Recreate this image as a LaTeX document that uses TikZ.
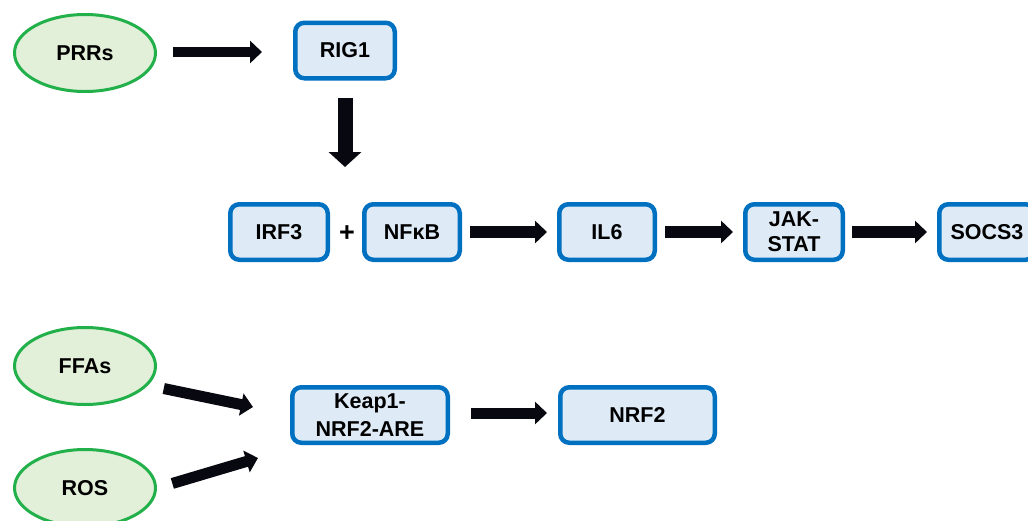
\documentclass[tikz,border=0pt]{standalone}
\usepackage{fontspec}
\setmainfont{Liberation Sans}
\usetikzlibrary{arrows.meta,shapes.geometric}
\definecolor{gborder}{HTML}{22B04A}
\definecolor{gfill}{HTML}{E2F0D9}
\definecolor{bborder}{HTML}{0070C0}
\definecolor{bfill}{HTML}{DEEBF7}
\definecolor{arrowcol}{HTML}{080810}
\tikzset{
  txt/.style={font=\fontsize{21.5}{25}\selectfont\bfseries, align=center},
  oval/.style={txt, ellipse, draw=gborder, fill=gfill, line width=3pt, minimum width=141pt, minimum height=77pt, inner sep=0pt},
  pbox/.style={txt, rectangle, rounded corners=9pt, draw=bborder, fill=bfill, line width=4.5pt, minimum height=55.5pt, minimum width=95.5pt, inner sep=0pt},
  bigarrow/.style={draw=arrowcol, line width=#1, -{Triangle[length=12pt,width=22pt]}},
  bigarrow/.default=11pt,
}
\begin{document}
\begin{tikzpicture}[x=1pt,y=-1pt]
\useasboundingbox[fill=white] (0,0) rectangle (1028,520);
% ellipses
\node[oval] (prrs) at (85,53) {PRRs};
\node[oval] (ffas) at (85,366) {FFAs};
\node[oval] (ros) at (85,488) {ROS};
% boxes
\node[pbox, minimum width=99.5pt] (rig1) at (345,50.5) {RIG1};
\node[pbox, minimum width=97.5pt] (irf3) at (279,232) {IRF3};
\node[txt, font=\fontsize{27}{30}\selectfont\bfseries, inner sep=0pt] (plus) at (347,234) {+};
\node[pbox] (nfkb) at (412,232) {NFκB};
\node[pbox] (il6) at (607,232) {IL6};
\node[pbox, minimum width=97.5pt] (jak) at (794,232) {JAK-\\STAT};
\node[pbox] (socs3) at (987,232) {SOCS3};
\node[pbox, minimum width=155.5pt, font=\fontsize{21.5}{27.5}\selectfont\bfseries] (keap) at (370,415) {Keap1-\\NRF2-ARE};
\node[pbox, minimum width=154.5pt] (nrf2) at (637.5,415) {NRF2};
% coordinates
\coordinate (downtip) at (345,167);
\coordinate (ffatip) at (253,407);
\coordinate (rostip) at (258,458);
% arrows
\draw[bigarrow=10.5pt, shorten <=16pt, shorten >=31pt] (prrs.east |- 0,52) -- (rig1.west |- 0,52);
\draw[draw=arrowcol, line width=15pt, -{Triangle[length=15pt,width=32pt]}, shorten <=17pt] (rig1.south) -- (downtip);
\draw[bigarrow=12pt, shorten <=8pt, shorten >=10pt] (nfkb.east) -- (il6.west);
\draw[bigarrow=12pt, shorten <=8pt, shorten >=10pt] (il6.east) -- (jak.west);
\draw[bigarrow=12pt, shorten <=7pt, shorten >=10pt] (jak.east) -- (socs3.west);
\draw[bigarrow=11pt, shorten <=21pt, shorten >=11pt] (keap.east |- 0,413) -- (nrf2.west |- 0,413);
\draw[bigarrow=11pt, shorten <=16pt] (ffas.-17) -- (ffatip);
\draw[bigarrow=11pt, shorten <=16pt] (ros.east) -- (rostip);
\end{tikzpicture}
\end{document}
